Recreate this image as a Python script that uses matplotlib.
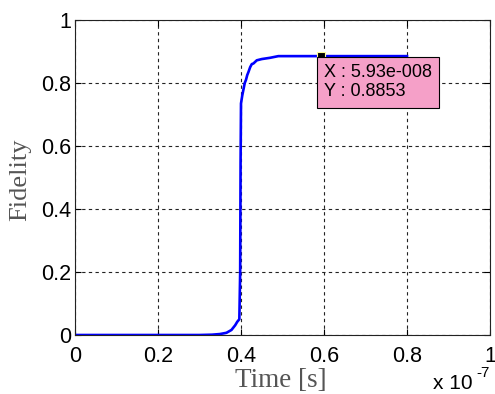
import numpy as np
import matplotlib
matplotlib.use("Agg")
import matplotlib.pyplot as plt
from matplotlib.ticker import FuncFormatter

# fidelity vs time, time in seconds
time_s = np.array([0, 20, 30, 33, 34.9, 36.5, 37.7, 38.6, 39.1, 39.6, 39.8, 39.9, 40.0,
                   40.3, 40.6, 40.9, 41.2, 41.5, 41.8, 42.2, 42.6, 43.0, 43.8, 45.0,
                   47.0, 49.0, 55.0, 59.3, 65.0, 70.0, 80.0]) * 1e-9
fidelity = np.array([0, 0, 0, 0.001, 0.003, 0.007, 0.016, 0.031, 0.042, 0.05, 0.20, 0.55, 0.735,
                     0.76, 0.78, 0.80, 0.81, 0.825, 0.835, 0.85, 0.86, 0.862, 0.872, 0.876,
                     0.880, 0.8853, 0.8853, 0.8853, 0.8853, 0.8853, 0.8853])

tip_x = 5.93e-8
tip_y = 0.8853
tip_text = "X : 5.93e-008\nY : 0.8853"

xticks = [0, 0.2e-7, 0.4e-7, 0.6e-7, 0.8e-7, 1e-7]
yticks = [0, 0.2, 0.4, 0.6, 0.8, 1]

W, H = 495, 394
fig = plt.figure(figsize=(W / 100, H / 100), dpi=100)
ax = fig.add_axes([75 / W, 1 - 335 / H, 415 / W, 315 / H])

ax.plot(time_s, fidelity, color="#0000ff", lw=1.9, solid_joinstyle="round")
ax.set_xlim(0, 1e-7)
ax.set_ylim(0, 1)
ax.set_xticks(xticks)
ax.set_yticks(yticks)
ax.xaxis.set_major_formatter(FuncFormatter(lambda v, p: f"{v / 1e-7:g}"))
ax.yaxis.set_major_formatter(FuncFormatter(lambda v, p: f"{v:g}"))

ax.grid(True, color="#222222", lw=0.8, linestyle=(0, (3, 3)))
ax.tick_params(direction="in", length=4, width=0.8, top=True, right=True,
               labelsize=15.5, colors="black")
ax.tick_params(axis="x", pad=8)
ax.tick_params(axis="y", pad=3)
for lab in ax.get_xticklabels() + ax.get_yticklabels():
    lab.set_fontfamily("Liberation Sans")
for s in ax.spines.values():
    s.set_linewidth(0.8)
    s.set_color("#222222")

ax.set_xlabel("Time [s]", fontsize=19.5, family="Liberation Serif", color="#555555")
ax.set_ylabel("Fidelity", fontsize=19, family="Liberation Serif", color="#555555")
ax.xaxis.set_label_coords((281 - 75) / 415, -(387 - 335) / 315, transform=ax.transAxes)
ax.xaxis.label.set_va("baseline")
ax.yaxis.set_label_coords((20 - 75) / 415, (335 - 180) / 315)
ax.yaxis.label.set_va("center")

# exponent of the x axis
fig.text(433 / W, 1 - 389 / H, "x 10", fontsize=15, family="Liberation Sans", va="baseline")
fig.text(476 / W, 1 - 377 / H, "-7", fontsize=11, family="Liberation Sans", va="baseline")

# data tip
ax.plot([tip_x], [tip_y], marker="s", ms=6, mfc="black", mec="#ffff99", mew=0.8, zorder=5)
ax.annotate(tip_text, xy=(tip_x, tip_y), xytext=(2.0, -6.0), textcoords="offset points",
            ha="left", va="top", fontsize=13, family="Liberation Sans", linespacing=1.15,
            bbox=dict(boxstyle="square,pad=0.4", fc="#f5a0c8", ec="black", lw=0.8),
            zorder=6)

fig.savefig("out.png", dpi=100, facecolor="white")
